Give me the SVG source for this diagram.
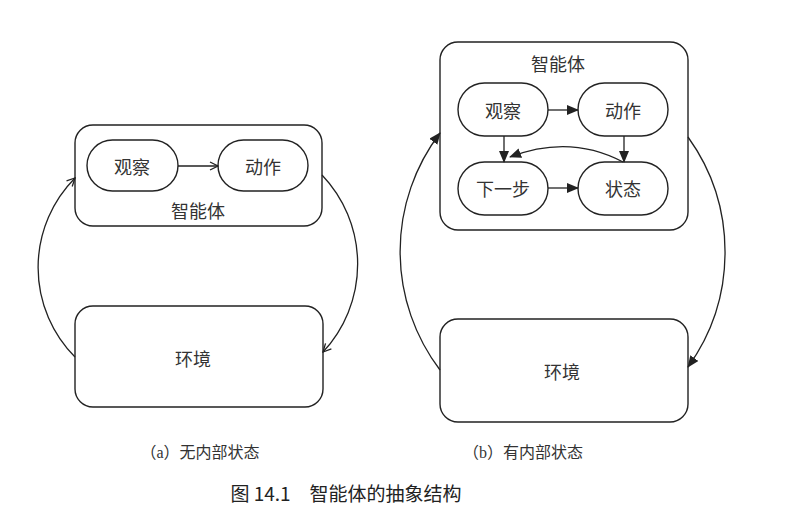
<svg xmlns="http://www.w3.org/2000/svg" width="788" height="518" viewBox="0 0 788 518">
<style>
.box{fill:none;stroke:#222;stroke-width:1.4}
.ln{fill:none;stroke:#222;stroke-width:1.3}
.t{font-family:"Noto Sans CJK SC","Noto Sans",sans-serif;font-size:18px;fill:#333;text-anchor:middle;dominant-baseline:central}
.cap{font-family:"Liberation Serif","Noto Sans CJK SC",serif;font-size:16px;fill:#333;text-anchor:middle;dominant-baseline:central}
.title{font-family:"Noto Sans CJK SC","Noto Sans",sans-serif;font-size:19px;fill:#222;text-anchor:middle;dominant-baseline:central}
</style>
<defs>
<marker id="open" viewBox="0 0 10 10" refX="9" refY="5" markerWidth="10" markerHeight="10" markerUnits="userSpaceOnUse" orient="auto">
<path d="M1,1 L9,5 L1,9" fill="none" stroke="#222" stroke-width="1.3"/>
</marker>
<marker id="fill" viewBox="0 0 12 10" refX="11" refY="5" markerWidth="12" markerHeight="10" markerUnits="userSpaceOnUse" orient="auto">
<path d="M0,0 L12,5 L0,10 Z" fill="#222"/>
</marker>
</defs>
<rect width="788" height="518" fill="#fff"/>

<!-- Panel (a) -->
<g id="a-agent">
<rect class="box" x="75" y="125" width="247" height="101" rx="18"/>
<text class="t" x="198" y="210">智能体</text>
</g>
<g id="a-observe">
<rect class="box" x="87" y="140" width="91" height="51" rx="25.5"/>
<text class="t" x="132" y="166">观察</text>
</g>
<g id="a-act">
<rect class="box" x="218" y="140" width="90" height="51" rx="25.5"/>
<text class="t" x="263" y="166">动作</text>
</g>
<g id="a-env">
<rect class="box" x="75" y="306" width="248" height="101" rx="18"/>
<text class="t" x="193" y="358">环境</text>
</g>

<!-- Panel (b) -->
<g id="b-agent">
<rect class="box" x="440" y="42" width="248" height="188" rx="18"/>
<text class="t" x="558" y="63">智能体</text>
</g>
<g id="b-observe">
<rect class="box" x="458" y="83" width="90" height="53" rx="26.5"/>
<text class="t" x="503" y="110">观察</text>
</g>
<g id="b-act">
<rect class="box" x="578" y="83" width="90" height="53" rx="26.5"/>
<text class="t" x="623" y="110">动作</text>
</g>
<g id="b-next">
<rect class="box" x="458" y="162" width="90" height="53" rx="26.5"/>
<text class="t" x="503" y="188">下一步</text>
</g>
<g id="b-state">
<rect class="box" x="578" y="162" width="90" height="53" rx="26.5"/>
<text class="t" x="623" y="188">状态</text>
</g>
<g id="b-env">
<rect class="box" x="440" y="319" width="248" height="103" rx="18"/>
<text class="t" x="562" y="371">环境</text>
</g>

<g id="connectors">
<!-- (a) -->
<path class="ln" d="M178,166 L218,166" marker-end="url(#open)"/>
<path class="ln" d="M75,357 A127,127 0 0 1 75,178" marker-end="url(#open)"/>
<path class="ln" d="M322,175 A129,129 0 0 1 323,352" marker-end="url(#open)"/>
<!-- (b) -->
<path class="ln" d="M548,110 L578,110" marker-end="url(#fill)"/>
<path class="ln" d="M548,188 L578,188" marker-end="url(#fill)"/>
<path class="ln" d="M504,136 L504,162" marker-end="url(#fill)"/>
<path class="ln" d="M624,136 L624,162" marker-end="url(#fill)"/>
<path class="ln" d="M623,162 Q570,134 510,157" marker-end="url(#fill)"/>
<path class="ln" d="M440,370 A196,196 0 0 1 440,133" marker-end="url(#fill)"/>
<path class="ln" d="M688,137 A197,197 0 0 1 688,367" marker-end="url(#fill)"/>
</g>

<text class="cap" x="200" y="452">（a）无内部状态</text>
<text class="cap" x="523" y="452">（b）有内部状态</text>
<text class="title" x="346" y="492">图 14.1　智能体的抽象结构</text>
</svg>
